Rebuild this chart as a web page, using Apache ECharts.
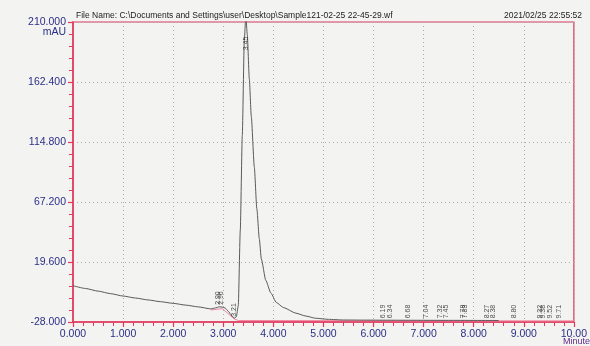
<!DOCTYPE html>
<html>
<head>
<meta charset="utf-8">
<script src="https://cdn.jsdelivr.net/npm/echarts@6/dist/echarts.min.js"></script>
<style>
  html, body { margin: 0; padding: 0; background: #f3f3f1; }
  #chart { width: 590px; height: 346px; }
</style>
</head>
<body>
<div id="chart"></div>
<script>
// chromatogram trace
var times = [0, 0.25, 0.5, 0.75, 1.0, 1.25, 1.5, 1.75, 2.0, 2.25, 2.5, 2.75, 2.85, 2.92, 2.98, 3.04,
    3.1, 3.16, 3.22, 3.26, 3.3, 3.34, 3.38, 3.42, 3.45, 3.48, 3.52, 3.56, 3.62, 3.67, 3.72, 3.76,
    3.85, 3.95, 4.06, 4.2, 4.45, 4.65, 4.84, 5.1, 5.4, 5.8, 6.5, 7.5, 8.5, 10];
var absorbance = [0.8, -1.4, -3.5, -5.5, -7.4, -9.0, -10.5, -11.9, -13.2, -14.6, -16.0, -17.6, -16.8, -15.9, -16.2, -17.0,
    -19.5, -22.5, -25.0, -24.0, -15, 45, 120, 195, 215, 200, 165, 135, 95, 62, 38, 22,
    5, -5, -12.5, -16.5, -21, -23.3, -25, -25.9, -26.4, -26.5, -26.6, -26.7, -26.8];

// integration baseline (pink)
var baseTimes = [2.75, 2.98, 3.22, 3.3, 10];
var baseValues = [-18.5, -17.4, -25.6, -26.8, -27.1];

// retention time labels
var peakTimes = [2.90, 2.96, 3.21, 3.45, 6.19, 6.34, 6.68, 7.04, 7.32, 7.45, 7.78, 7.83, 8.27, 8.38, 8.80, 9.32, 9.38, 9.52, 9.71];
var peakLevels = [-16, -16, -25.5, 186, -26.6, -26.6, -26.6, -26.6, -26.6, -26.6, -26.6, -26.6, -26.7, -26.7, -26.7, -26.8, -26.8, -26.8, -26.8];

var xTicks = { min: 0, max: 10, interval: 1 };
var yTicks = { min: -28, max: 210, interval: 47.6 };

const RED = '#e2385e';
const NAVY = '#2b2f86';

var chart = echarts.init(document.getElementById('chart'));

var axisCommon = {
    axisLine: { show: true, onZero: false, lineStyle: { color: RED, width: 1.5 } },
    axisTick: { show: true, inside: false, length: 5, lineStyle: { color: RED, width: 1.2 } },
    minorTick: { show: true, splitNumber: 5, length: 4, lineStyle: { color: RED, width: 1 } },
    splitLine: { show: true, lineStyle: { color: '#a9a9a9', type: [1, 3], width: 1 } },
    axisLabel: { color: NAVY, fontFamily: 'Liberation Sans, Arial', fontSize: 10.5 }
};

var option = {
    backgroundColor: '#f3f3f1',
    animation: false,
    grid: { left: 73, right: 7, top: 22, bottom: 24, show: true, borderColor: RED, borderWidth: 1.2 },
    xAxis: Object.assign({}, axisCommon, {
        type: 'value',
        min: xTicks.min, max: xTicks.max, interval: xTicks.interval,
        axisLabel: Object.assign({}, axisCommon.axisLabel, {
            margin: 7,
            formatter: function (v) { return v === 10 ? '10.00' : v.toFixed(3); }
        })
    }),
    yAxis: Object.assign({}, axisCommon, {
        type: 'value',
        min: yTicks.min, max: yTicks.max, interval: yTicks.interval,
        axisLabel: Object.assign({}, axisCommon.axisLabel, {
            margin: 7,
            formatter: function (v) { return v.toFixed(3); }
        })
    }),
    series: [{
        type: 'line',
        data: times.map(function (t, i) { return [t, absorbance[i]]; }),
        showSymbol: false,
        smooth: 0.2,
        smoothMonotone: 'x',
        lineStyle: { color: '#5a5a5a', width: 1 },
        z: 3
    }, {
        type: 'line',
        data: baseTimes.map(function (t, i) { return [t, baseValues[i]]; }),
        showSymbol: false,
        lineStyle: { color: '#ef8aa2', width: 1 },
        z: 2
    }, {
        type: 'scatter',
        data: peakTimes.map(function (t, i) { return [t, peakLevels[i]]; }),
        symbolSize: 0,
        label: {
            show: true,
            position: 'top',
            distance: 2,
            rotate: 90,
            align: 'left',
            verticalAlign: 'middle',
            fontSize: 7,
            color: '#222',
            fontFamily: 'Liberation Sans, Arial',
            formatter: function (p) { return p.value[0].toFixed(2); }
        },
        z: 4
    }],
    graphic: [{
        type: 'text', left: 76, top: 11,
        style: { text: 'File Name: C:\\Documents and Settings\\user\\Desktop\\Sample121-02-25 22-45-29.wf',
            fill: '#222', font: '8.5px Liberation Sans, Arial' }
    }, {
        type: 'text', right: 8, top: 11,
        style: { text: '2021/02/25 22:55:52', fill: '#222', font: '8.5px Liberation Sans, Arial' }
    }, {
        type: 'text', right: 524, top: 27,
        style: { text: 'mAU', fill: NAVY, font: '10.5px Liberation Sans, Arial', textAlign: 'right' }
    }, {
        type: 'text', left: 563, top: 337,
        style: { text: 'Minutes', fill: '#5b2c8c', font: '9px Liberation Sans, Arial' }
    }]
};

chart.setOption(option);
</script>
</body>
</html>
